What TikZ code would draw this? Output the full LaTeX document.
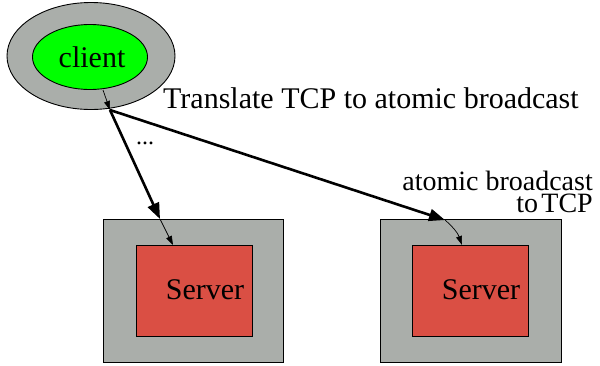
\documentclass[tikz,border=0pt]{standalone}
\usepackage{fontspec}
\setmainfont{Liberation Serif}
\usetikzlibrary{shapes.geometric,arrows.meta}
\definecolor{shell}{HTML}{AAAEAA}
\definecolor{core}{HTML}{DA4F44}
\definecolor{cli}{HTML}{00FF00}
\tikzset{
  shellbox/.style={draw=black, line width=0.9pt, fill=shell, rectangle, inner sep=0pt},
  corebox/.style={draw=black, line width=0.9pt, fill=core, rectangle, inner sep=0pt},
  label/.style={inner sep=0pt, font=\fontsize{30}{32}\selectfont},
  thinarrow/.style={line width=0.7pt, -{Triangle[length=9pt,width=6pt]}},
  thickarrow/.style={line width=2.6pt, -{Triangle[length=16pt,width=12pt]}},
}
\begin{document}
\begin{tikzpicture}[x=1pt,y=-1pt]
\useasboundingbox (0,0) rectangle (600,365);
% client cluster
\node[ellipse, draw=black, line width=0.9pt, fill=shell, minimum width=168pt, minimum height=107pt, inner sep=0pt] (clientshell) at (91,56) {};
\node[ellipse, draw=black, line width=0.9pt, fill=cli, minimum width=115pt, minimum height=65pt, inner sep=0pt] (client) at (90,57) {};
\node[label, anchor=base] (clientlbl) at (92,67) {client};
% server clusters
\node[shellbox, minimum width=180pt, minimum height=143pt] (shellA) at (193,290.5) {};
\node[corebox, minimum width=116pt, minimum height=91pt] (serverA) at (194,290.5) {};
\node[label, anchor=base] (serverAlbl) at (205,299) {Server};
\node[shellbox, minimum width=181pt, minimum height=143pt] (shellB) at (470.5,290.5) {};
\node[corebox, minimum width=116pt, minimum height=91pt] (serverB) at (470,290.5) {};
\node[label, anchor=base] (serverBlbl) at (481,299) {Server};
% cluster crossing points
\coordinate (cOut) at (110,110);
\coordinate (aIn) at (160,219);
\coordinate (bIn) at (445,220);
% connectors
\draw[thinarrow] (103,90) -- (cOut);
\draw[thickarrow] (cOut) -- (aIn);
\draw[thickarrow] (cOut) -- (bIn);
\draw[thinarrow] (aIn) -- (173,245);
\draw[thinarrow] (bIn) to[bend left=15] (462,245);
% labels
\node[label, anchor=base west] (tlbl) at (163,108) {Translate TCP to atomic broadcast};
\node[label, anchor=south east, align=right, font=\fontsize{28}{22}\selectfont] (albl) at (593,213) {atomic broadcast\\to\hspace{0.12em}TCP};
\node[label, anchor=base west, font=\fontsize{24}{26}\selectfont] (dots) at (136,144) {...};
\end{tikzpicture}
\end{document}
